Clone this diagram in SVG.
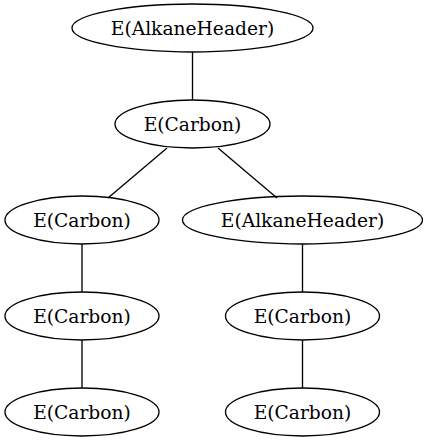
<svg xmlns="http://www.w3.org/2000/svg" width="429" height="443" viewBox="0 0 429 443">
<style>
ellipse{fill:none;stroke:#000;stroke-width:1.33}
text{font-family:"DejaVu Serif",serif;font-size:18.67px;text-anchor:middle;fill:#000}
#edges line{stroke:#000;stroke-width:1.33}
</style>
<rect width="429" height="443" fill="#fff"/>
<g id="edges">
<line x1="192.5" y1="52" x2="192.5" y2="100"/>
<line x1="167" y1="148" x2="108" y2="198"/>
<line x1="218" y1="148" x2="277" y2="198"/>
<line x1="82" y1="244" x2="82" y2="292"/>
<line x1="82" y1="340" x2="82" y2="388"/>
<line x1="302.5" y1="244" x2="302.5" y2="292"/>
<line x1="302.5" y1="340" x2="302.5" y2="388"/>
</g>
<g id="n1"><ellipse cx="192.5" cy="28" rx="120.5" ry="24"/><text x="192.5" y="34.5">E(AlkaneHeader)</text></g>
<g id="n2"><ellipse cx="192.5" cy="124" rx="77.5" ry="24"/><text x="192.5" y="130.5">E(Carbon)</text></g>
<g id="n3"><ellipse cx="82" cy="220" rx="77" ry="24"/><text x="82" y="226.5">E(Carbon)</text></g>
<g id="n4"><ellipse cx="302.5" cy="220" rx="120" ry="24"/><text x="302.5" y="226.5">E(AlkaneHeader)</text></g>
<g id="n5"><ellipse cx="82" cy="316" rx="77" ry="24"/><text x="82" y="322.5">E(Carbon)</text></g>
<g id="n6"><ellipse cx="302.5" cy="316" rx="77" ry="24"/><text x="302.5" y="322.5">E(Carbon)</text></g>
<g id="n7"><ellipse cx="82" cy="412" rx="77" ry="24"/><text x="82" y="418.5">E(Carbon)</text></g>
<g id="n8"><ellipse cx="302.5" cy="412" rx="77" ry="24"/><text x="302.5" y="418.5">E(Carbon)</text></g>
</svg>
